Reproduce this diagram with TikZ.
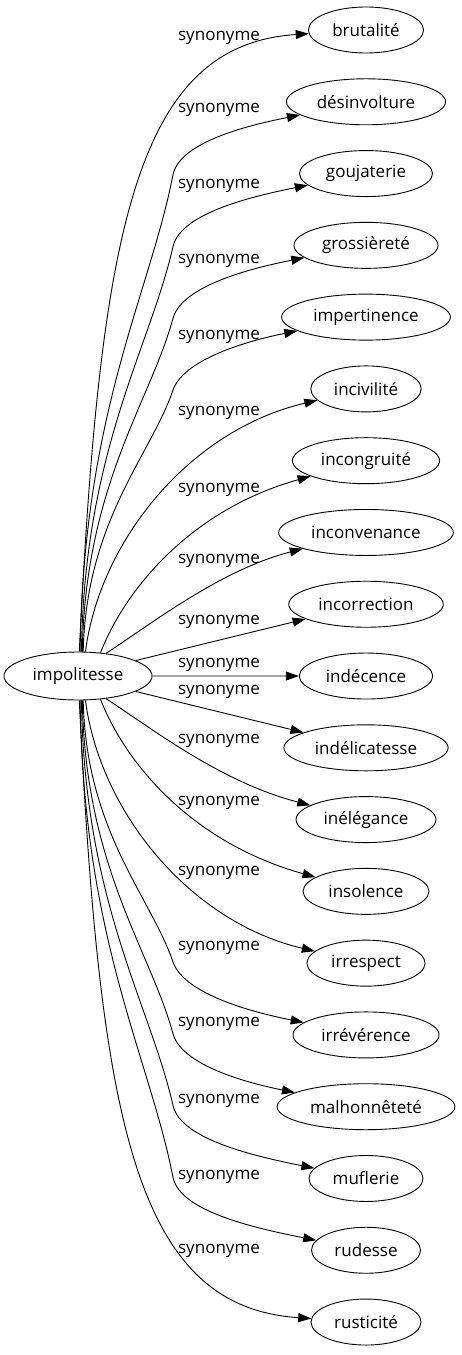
\documentclass[tikz,border=0pt]{standalone}
\usepackage{fontspec}
\setmainfont{Open Sans}
\usetikzlibrary{shapes.geometric,calc,arrows.meta}

\tikzset{
  mot/.style={draw, ellipse, line width=0.9pt, inner xsep=7pt, inner ysep=0pt,
    minimum height=46pt, font=\fontsize{17}{20}\selectfont},
  syn/.style={line width=0.9pt, -{Triangle[length=13pt,width=9pt]}},
  lbl/.style={font=\fontsize{17}{20}\selectfont, inner sep=0pt},
}

\begin{document}
\begin{tikzpicture}[x=1pt,y=-1pt]
\useasboundingbox (0,0) rectangle (461,1355);
\node[mot, minimum width=148pt, minimum height=48pt] (impolitesse) at (78,676) {impolitesse};
\foreach \mot [count=\i from 0] in {brutalité,désinvolture,goujaterie,grossièreté,impertinence,incivilité,incongruité,inconvenance,incorrection,indécence,indélicatesse,inélégance,insolence,irrespect,irrévérence,malhonnêteté,muflerie,rudesse,rusticité}
  \node[mot] (m\i) at (366,{30+71.78*\i}) {\mot};
\foreach \y [count=\i from 0] in {38,110,186,261,337,413,490,561,622,665,692,741,803,873,948,1024,1101,1177,1251}
  \node[lbl] (s\i) at (219,\y) {synonyme};
\foreach \i/\a in {1/85.2,2/82.9,3/80.5,4/78.2}{
  \pgfmathsetmacro\by{30+71.78*\i+73}
  \pgfmathsetmacro\h{652-\by}
  \coordinate (s) at (impolitesse.\a);
  \coordinate (b\i) at (173,\by);
  \draw[syn] (s) .. controls +(3,{-0.5*\h}) and ($(b\i)!0.25!(s)$) .. (b\i)
    .. controls ($(b\i)!-35pt!(s)$) and ($(m\i)+(-110,22)$) .. (m\i);
}
\foreach \i/\a in {14/-78.2,15/-80.5,16/-82.9,17/-85.2}{
  \pgfmathsetmacro\by{30+71.78*\i-73}
  \pgfmathsetmacro\h{\by-700}
  \coordinate (s) at (impolitesse.\a);
  \coordinate (b\i) at (173,\by);
  \draw[syn] (s) .. controls +(3,{0.5*\h}) and ($(b\i)!0.25!(s)$) .. (b\i)
    .. controls ($(b\i)!-35pt!(s)$) and ($(m\i)+(-110,-22)$) .. (m\i);
}
\draw[syn] (impolitesse.87.6) .. controls (100,230) and (135,45) .. (m0);
\draw[syn] (impolitesse.73.7) .. controls (100,540) and (190,430) .. (m5);
\draw[syn] (impolitesse.46) .. controls (125,590) and (190,510) .. (m6);
\draw[syn] (impolitesse.39.6) .. controls (150,625) and (220,570) .. (m7);
\draw[syn] (impolitesse.15) -- (m8);
\draw[syn] (impolitesse) -- (m9);
\draw[syn] (impolitesse.-15) -- (m10);
\draw[syn] (impolitesse.-39.6) .. controls (150,727) and (220,782) .. (m11);
\draw[syn] (impolitesse.-46) .. controls (125,762) and (190,842) .. (m12);
\draw[syn] (impolitesse.-73.7) .. controls (100,812) and (190,922) .. (m13);
\draw[syn] (impolitesse.-87.6) .. controls (100,1122) and (135,1307) .. (m18);
\end{tikzpicture}
\end{document}
